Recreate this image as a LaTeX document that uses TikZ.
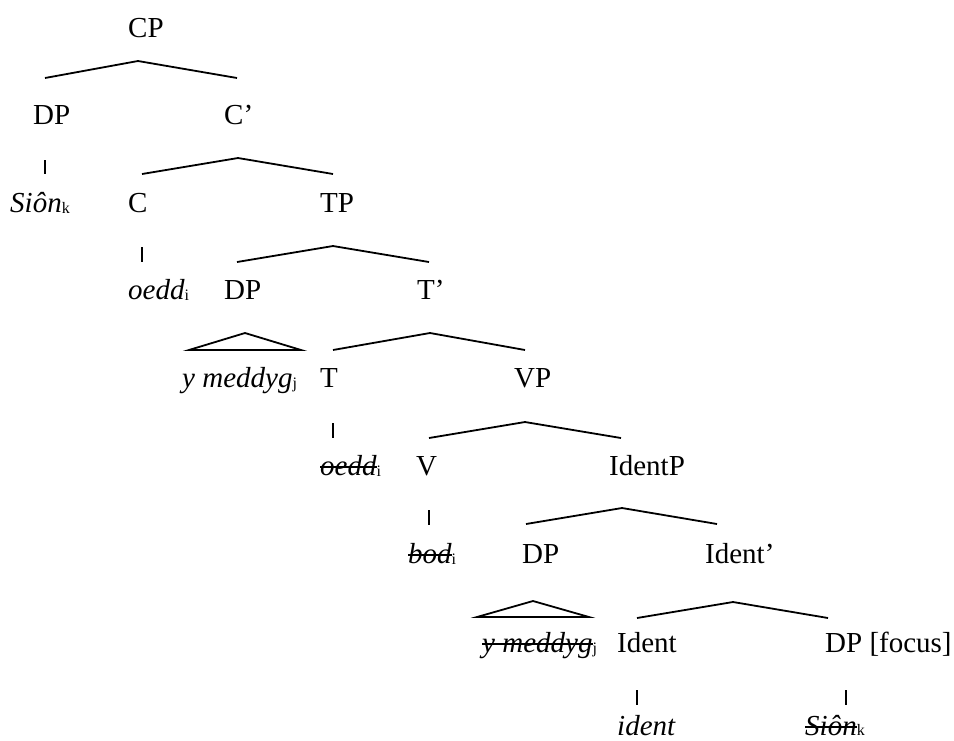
\documentclass[tikz,border=0pt]{standalone}
\usepackage{fontspec}
\setmainfont{Liberation Serif}
% small, slightly lowered index letter
\newcommand\idx[1]{\raisebox{-1.5pt}{\fontsize{16}{16}\selectfont #1}}
% word with a line struck through it
\newcommand\struck[1]{\setbox0\hbox{#1}\rlap{\rule[7.5pt]{\wd0}{1.6pt}}\box0}
\tikzset{
  lab/.style={anchor=base west, inner sep=0pt, font=\fontsize{29}{34}\selectfont},
  branch/.style={line width=1.8pt, line join=miter},
  tickline/.style={line width=1.8pt},
  roof/.style={line width=1.8pt, line join=miter}
}
\begin{document}
\begin{tikzpicture}[x=1pt,y=-1pt]
\useasboundingbox (0,0) rectangle (954,740);

% ---- labels ----
\node[lab] (cp)    at (128,37)  {CP};
\node[lab] (dp1)   at (33,124)  {DP};
\node[lab] (cbar)  at (224,124) {C’};
\node[lab] (sion)  at (10,212)  {\textit{Siôn}\idx{k}};
\node[lab] (c)     at (128,212) {C};
\node[lab] (tp)    at (320,212) {TP};
\node[lab] (oedd)  at (128,299) {\textit{oedd}\idx{i}};
\node[lab] (dp2)   at (224,299) {DP};
\node[lab] (tbar)  at (417,299) {T’};
\node[lab] (ym)    at (182,387) {\textit{y meddyg}\idx{j}};
\node[lab] (t)     at (320,387) {T};
\node[lab] (vp)    at (514,387) {VP};
\node[lab] (oedds) at (320,475) {\struck{\itshape oedd}\idx{i}};
\node[lab] (v)     at (416,475) {V};
\node[lab] (idp)   at (609,475) {IdentP};
\node[lab] (bod)   at (408,563) {\struck{\itshape bod}\idx{i}};
\node[lab] (dp3)   at (522,563) {DP};
\node[lab] (idbar) at (705,563) {Ident’};
\node[lab] (yms)   at (482,652) {\struck{\itshape y meddyg}\idx{j}};
\node[lab] (idh)   at (617,652) {Ident};
\node[lab] (dpf)   at (825,652) {DP [focus]};
\node[lab] (ident) at (617,735) {\textit{ident}};
\node[lab] (sions) at (805,735) {\struck{\itshape Siôn}\raisebox{-0.5pt}{\fontsize{16}{16}\selectfont k}};

% ---- branch points ----
\coordinate (cpL) at (45,78);   \coordinate (cpT) at (138,61);  \coordinate (cpR) at (237,78);
\coordinate (cbL) at (142,174); \coordinate (cbT) at (238,158); \coordinate (cbR) at (333,174);
\coordinate (tpL) at (237,262); \coordinate (tpT) at (333,246); \coordinate (tpR) at (429,262);
\coordinate (tbL) at (333,350); \coordinate (tbT) at (430,333); \coordinate (tbR) at (525,350);
\coordinate (vpL) at (429,438); \coordinate (vpT) at (525,422); \coordinate (vpR) at (621,438);
\coordinate (ipL) at (526,524); \coordinate (ipT) at (622,508); \coordinate (ipR) at (717,524);
\coordinate (ibL) at (637,618); \coordinate (ibT) at (733,602); \coordinate (ibR) at (828,618);

\draw[branch] (cpL) -- (cpT) -- (cpR);
\draw[branch] (cbL) -- (cbT) -- (cbR);
\draw[branch] (tpL) -- (tpT) -- (tpR);
\draw[branch] (tbL) -- (tbT) -- (tbR);
\draw[branch] (vpL) -- (vpT) -- (vpR);
\draw[branch] (ipL) -- (ipT) -- (ipR);
\draw[branch] (ibL) -- (ibT) -- (ibR);

% ---- roofs over phrasal DPs ----
\coordinate (r1L) at (189,350); \coordinate (r1T) at (245,333); \coordinate (r1R) at (301,350);
\coordinate (r2L) at (477,617); \coordinate (r2T) at (533,601); \coordinate (r2R) at (589,617);
\draw[roof] (r1L) -- (r1T) -- (r1R) -- cycle;
\draw[roof] (r2L) -- (r2T) -- (r2R) -- cycle;

% ---- unary ticks ----
\coordinate (k1a) at (45,160);  \coordinate (k1b) at (45,174);
\coordinate (k2a) at (142,247); \coordinate (k2b) at (142,262);
\coordinate (k3a) at (333,423); \coordinate (k3b) at (333,438);
\coordinate (k4a) at (429,510); \coordinate (k4b) at (429,525);
\coordinate (k5a) at (637,690); \coordinate (k5b) at (637,705);
\coordinate (k6a) at (846,690); \coordinate (k6b) at (846,705);
\foreach \k in {1,...,6} \draw[tickline] (k\k a) -- (k\k b);
\end{tikzpicture}
\end{document}
